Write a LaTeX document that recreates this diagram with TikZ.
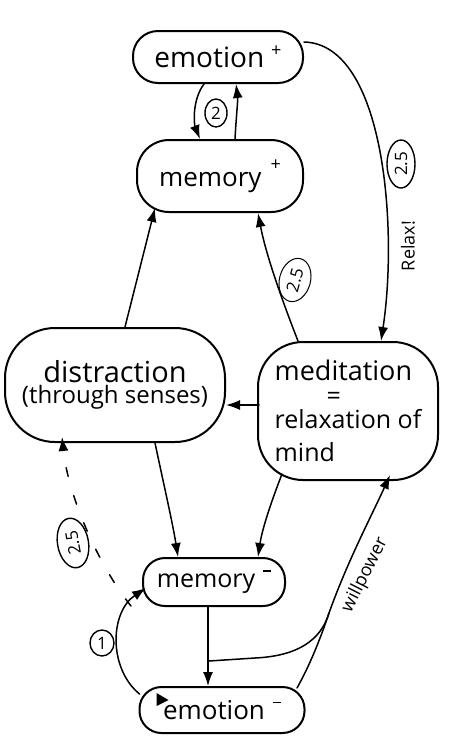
\documentclass[tikz,border=0pt]{standalone}
\usepackage{fontspec}
\setmainfont{Open Sans}
\usetikzlibrary{arrows.meta,calc,shapes.geometric}
\begin{document}
\begin{tikzpicture}[x=1pt,y=-1pt,
  line width=1.5pt, line cap=round,
  tip/.style={-{Latex[length=14pt,width=10pt]}},
  blob/.style={draw, line width=2pt, inner sep=0pt, align=center},
  tag/.style={draw, line width=1.4pt, ellipse, inner sep=0.5pt, font=\fontsize{17}{17}\selectfont},
  lab/.style={inner sep=1pt, font=\fontsize{18}{18}\selectfont},
  ]
\fill[white] (0,0) rectangle (450,748);
\useasboundingbox (0,0) rectangle (450,748);

% nodes
\node[blob, rounded corners=25pt, minimum width=170pt, minimum height=52pt,
      font=\fontsize{28}{30}\selectfont] (ep) at (218,57)
  {emotion\hspace{7pt}\raisebox{11pt}{\fontsize{18}{18}\selectfont +}};
\node[blob, rounded corners=32pt, minimum width=166pt, minimum height=72pt,
      font=\fontsize{26}{30}\selectfont] (mp) at (220,176)
  {memory\hspace{9pt}\raisebox{16pt}{\fontsize{18}{18}\selectfont +}};
\node[blob, rounded corners=50pt, minimum width=220pt, minimum height=114pt] (di) at (115,385)
  {{\fontsize{29}{30}\selectfont distraction}\\[2pt]{\fontsize{24}{26}\selectfont (through senses)}};
\node[blob, rounded corners=45pt, minimum width=180pt, minimum height=138pt,
      align=left, font=\fontsize{25}{24}\selectfont] (me) at (348,411)
  {{\fontsize{27}{24}\selectfont meditation}\\\hspace*{52pt}=\\relaxation of\\[9pt]mind};
\node[blob, rounded corners=22pt, minimum width=142pt, minimum height=48pt,
      font=\fontsize{25}{28}\selectfont] (mm) at (214,582)
  {memory\hspace{8pt}\raisebox{16pt}{\rule{8pt}{1.5pt}}};
\node[blob, rounded corners=22pt, minimum width=165pt, minimum height=46pt,
      font=\fontsize{26}{28}\selectfont] (em) at (222,710)
  {emotion\hspace{8pt}\raisebox{16pt}{\rule{8pt}{1.5pt}}};

% helper coordinates
\coordinate (j) at ($(mm.south)+(-5,54)$);
\coordinate (k) at (329,613);
\coordinate (l) at (131,606);

% emotion+ <-> memory+
\draw[tip] ($(ep.south)+(-14,0)$) .. controls (192,100) and (194,124) .. ($(mp.north)+(-20,0)$);
\draw[tip] ($(mp.north)+(15,0)$) .. controls (236,120) and (238,100) .. ($(ep.south)+(18,0)$);
\node[tag, minimum width=22pt, minimum height=28pt] (t2) at (216,113) {2};

% emotion+ -> meditation (Relax!)
\draw[tip] ($(ep.east)+(0,-15)$) .. controls (385,44) and (398,230) .. ($(me.north)+(33,0)$);
\node[tag, rotate=90, minimum width=48pt, minimum height=28pt] (t25a) at (401,164) {2.5};
\node[lab, rotate=90] (relax) at (408,246) {Relax!};

% meditation -> memory+
\draw[tip] ($(me.north)+(-50,0)$) .. controls (282,300) and (266,255) .. ($(mp.south)+(38,0)$);
\node[tag, rotate=75, minimum width=44pt, minimum height=31pt, line width=1pt] (t25b) at (295,280) {2.5};

% distraction -> memory+
\draw[tip] ($(di.north)+(10,0)$) -- ($(mp.south)+(-65,-5)$);

% meditation -> distraction
\draw[tip] ($(me.west)+(2,-6)$) -- ($(di.east)+(0,20)$);

% distraction -> memory-, meditation -> memory-
\draw[tip] ($(di.south)+(40,0)$) .. controls (165,490) and (173,525) .. ($(mm.north)+(-36,0)$);
\draw[tip] ($(me.south)+(-66,-7)$) .. controls (270,505) and (262,530) .. ($(mm.north)+(44,0)$);

% memory- -> emotion-
\draw[tip] ($(mm.south)+(-6,0)$) -- ($(em.north)+(-14,0)$);

% willpower
\draw[tip] (j) -- (255,658) .. controls (298,656) and (321,640) .. (k)
   .. controls (348,560) and (372,515) .. ($(me.south)+(42,-6)$);
\draw ($(em.north)+(75,2)$) .. controls (310,665) and (321,637) .. (k);
\node[lab, rotate=63] (will) at (365,575) {willpower};

% loop 1
\draw[tip] ($(em.west)+(1,-16)$) .. controls (108,668) and (110,612) .. ($(mm.west)+(4,6)$);
\node[tag, minimum width=24pt, minimum height=26pt] (t1) at (102,643) {1};

% dashed
\draw[tip, dash pattern=on 9pt off 20pt] (l) .. controls (98,565) and (68,495) .. ($(di.south)+(-53,-6)$);
\node[tag, rotate=100, minimum width=50pt, minimum height=31pt] (t25c) at (73,543) {2.5};

% mark in emotion-
\fill ($(em.west)+(18,-17)$) -- ($(em.west)+(30,-10)$) -- ($(em.west)+(18,-4)$) -- cycle;
\end{tikzpicture}
\end{document}
